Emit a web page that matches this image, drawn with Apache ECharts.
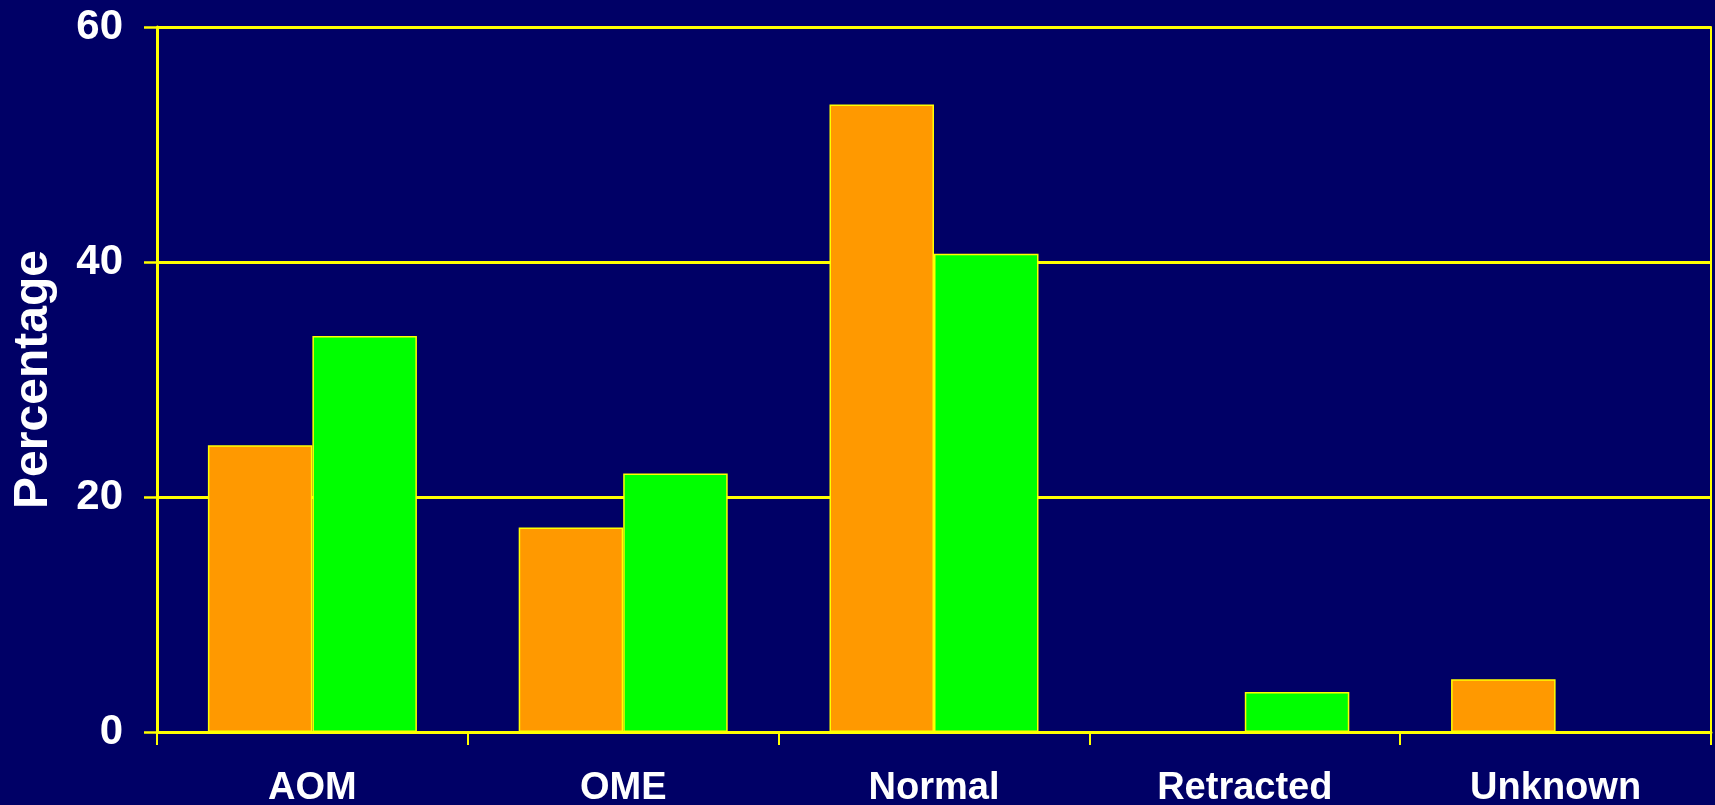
<!DOCTYPE html>
<html>
<head>
<meta charset="utf-8">
<title>Percentage by category</title>
<script src="https://cdn.jsdelivr.net/npm/echarts@6/dist/echarts.min.js"></script>
<style>
  html, body { margin: 0; padding: 0; background: #000066; }
  #chart { width: 1715px; height: 805px; }
</style>
</head>
<body>
<div id="chart"></div>
<script>
// Categories along the x axis
const categories = ['AOM', 'OME', 'Normal', 'Retracted', 'Unknown'];

// Percentages for the two groups (null = no bar drawn)
const orangeValues = [24.4, 17.4, 53.4, null, 4.5];
const greenValues = [33.7, 22.0, 40.7, 3.4, null];

// Y axis scale
const yMin = 0;
const yMax = 60;
const yStep = 20;

const yellow = '#FFFF00';
const font = '"Liberation Sans", Arial, sans-serif';

const chart = echarts.init(document.getElementById('chart'));

chart.setOption({
  backgroundColor: '#000066',
  animation: false,
  grid: {
    left: 157, right: 4, top: 27, bottom: 73,
    containLabel: false,
    outerBoundsMode: 'none'
  },
  xAxis: {
    type: 'category',
    data: categories,
    boundaryGap: true,
    axisLine: { show: true, lineStyle: { color: yellow, width: 3 } },
    axisTick: { show: true, length: 13, lineStyle: { color: yellow, width: 2 } },
    axisLabel: {
      color: '#FFFFFF', fontFamily: font, fontWeight: 'bold', fontSize: 38, margin: 38
    },
    splitLine: { show: false },
    z: 5
  },
  yAxis: [
    {
      type: 'value',
      min: yMin,
      max: yMax,
      interval: yStep,
      name: 'Percentage',
      nameLocation: 'middle',
      nameGap: 99,
      nameRotate: 90,
      nameTextStyle: { color: '#FFFFFF', fontFamily: font, fontWeight: 'bold', fontSize: 48 },
      axisLine: { show: true, lineStyle: { color: yellow, width: 3 } },
      axisTick: { show: true, length: 13, lineStyle: { color: yellow, width: 2.5 } },
      axisLabel: {
        color: '#FFFFFF', fontFamily: font, fontWeight: 'bold', fontSize: 42, margin: 34
      },
      splitLine: { show: true, lineStyle: { color: yellow, width: 3 } }
    },
    {
      // right-hand frame line
      type: 'value',
      position: 'right',
      min: yMin,
      max: yMax,
      interval: yStep,
      axisLine: { show: true, lineStyle: { color: yellow, width: 2 } },
      axisTick: { show: false },
      axisLabel: { show: false },
      splitLine: { show: false }
    }
  ],
  series: [
    {
      name: 'Group 1',
      type: 'bar',
      data: orangeValues,
      barGap: '0%',
      barCategoryGap: '32.75%',
      itemStyle: { color: '#FF9900', borderColor: yellow, borderWidth: 1.5 },
      z: 3
    },
    {
      name: 'Group 2',
      type: 'bar',
      data: greenValues,
      barGap: '0%',
      barCategoryGap: '32.75%',
      itemStyle: { color: '#00FF00', borderColor: yellow, borderWidth: 1.5 },
      z: 3
    }
  ]
});
</script>
</body>
</html>
